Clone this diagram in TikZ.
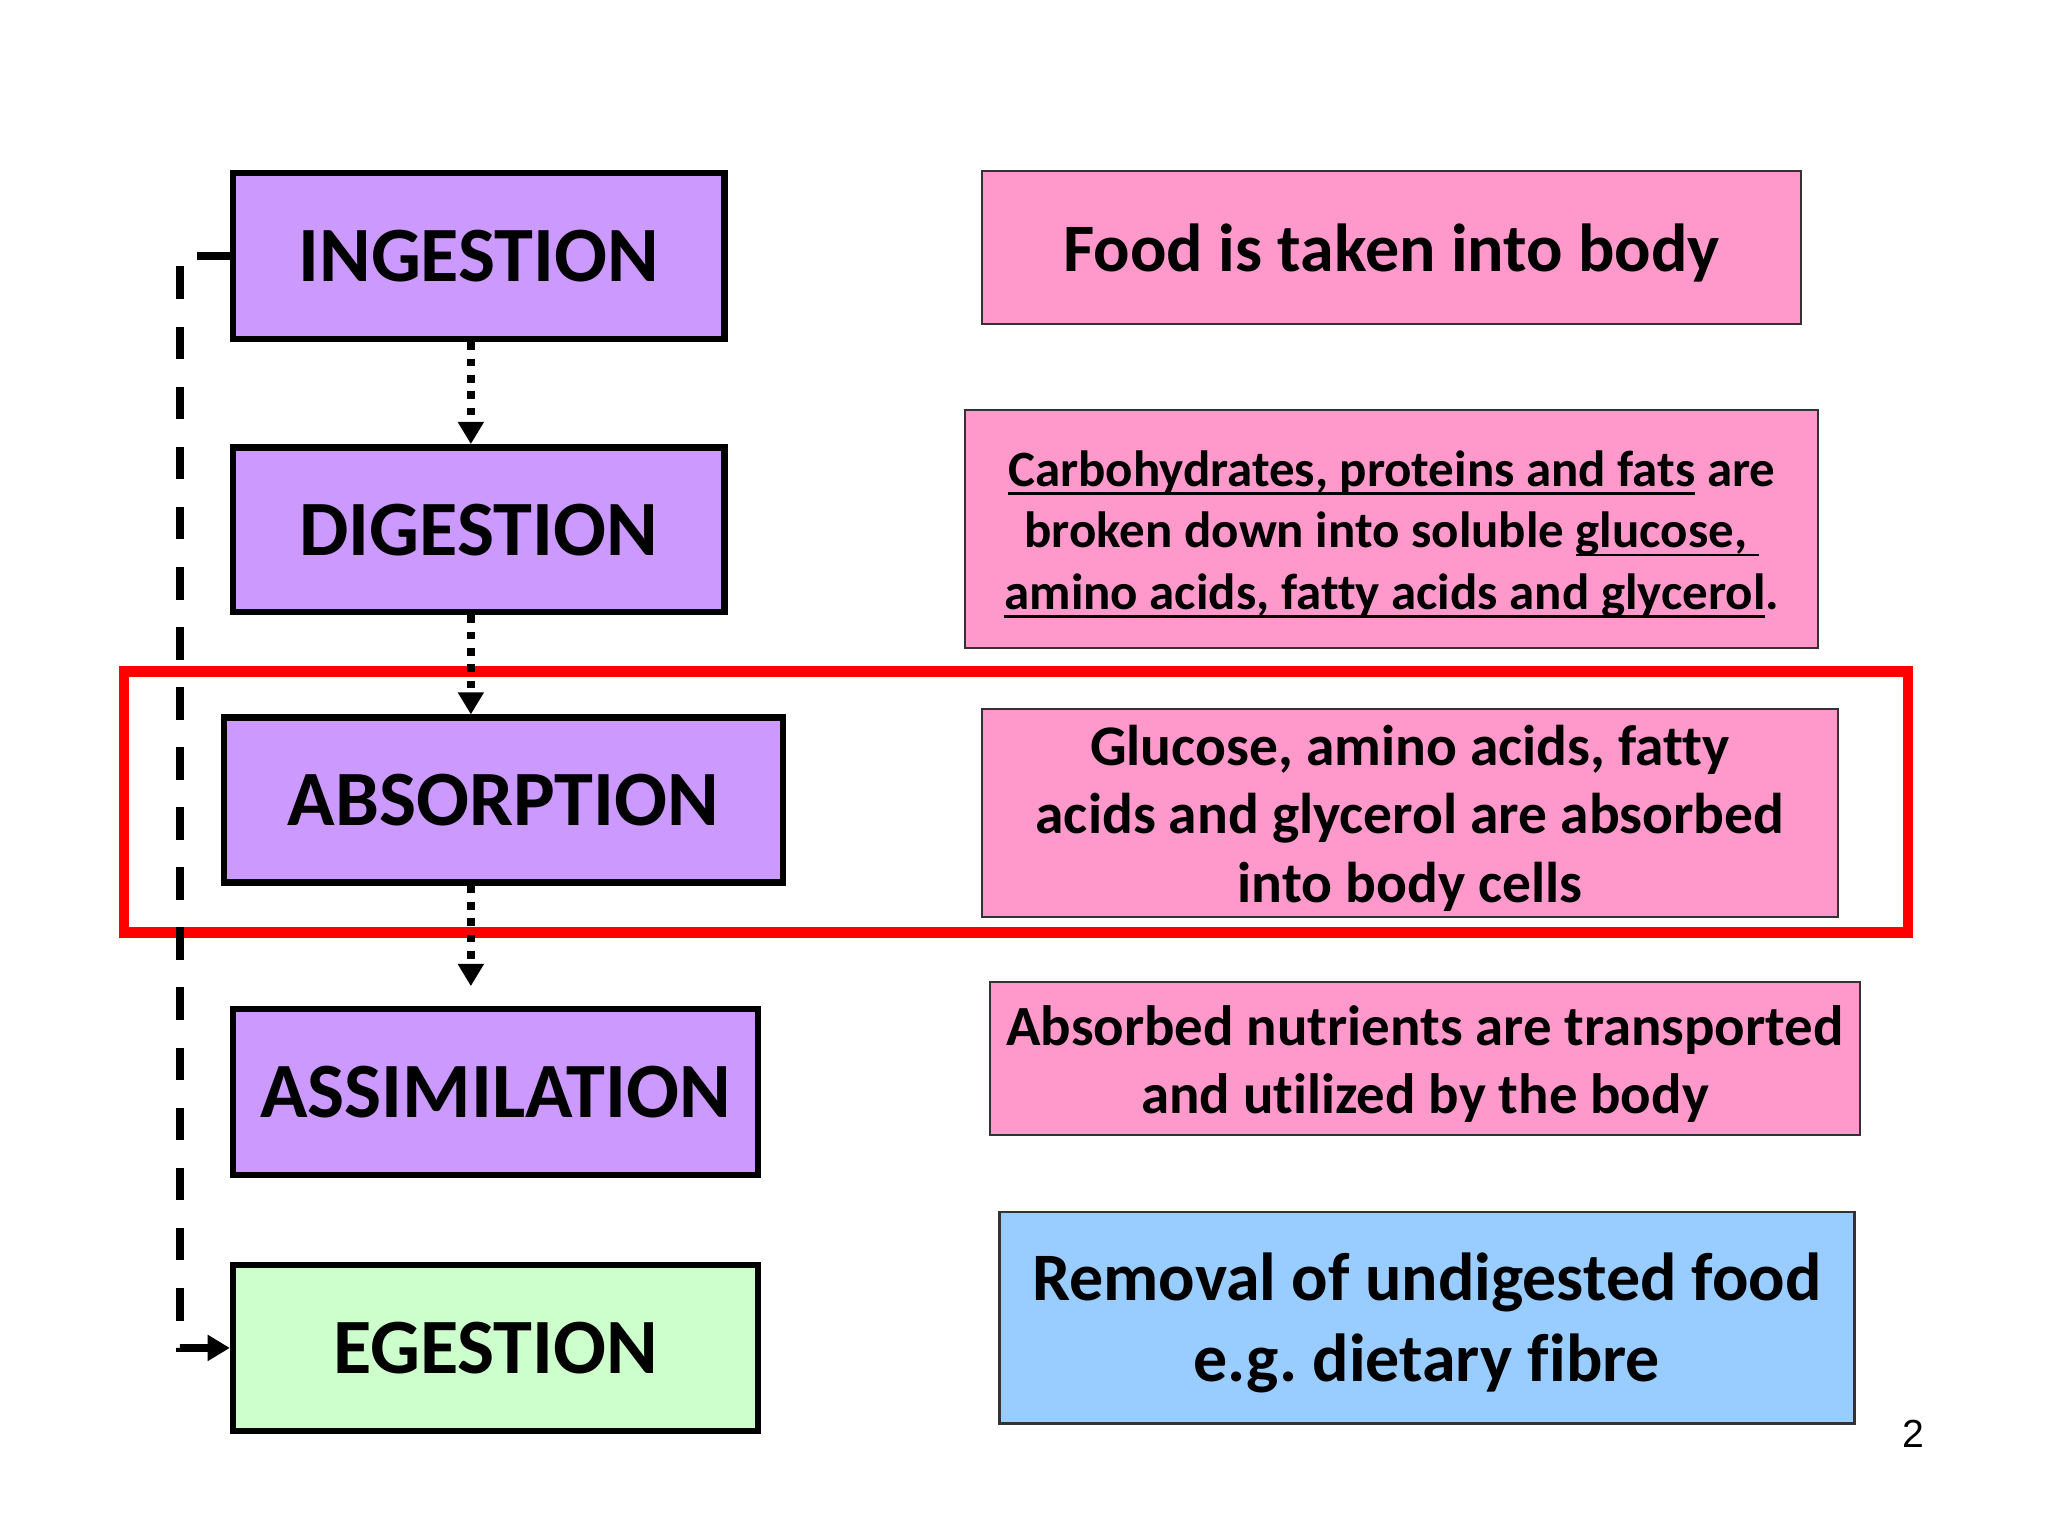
\documentclass[tikz,border=0pt]{standalone}
\usepackage{fontspec}
\setmainfont{Carlito}[Ligatures={NoCommon}]
\newfontfamily\numfont{Liberation Sans}
\usetikzlibrary{arrows.meta}
\definecolor{stagepurple}{HTML}{CC99FF}
\definecolor{stagegreen}{HTML}{CCFFCC}
\definecolor{descpink}{HTML}{FF99CC}
\definecolor{descblue}{HTML}{99CCFF}
\definecolor{descborder}{HTML}{333333}
\definecolor{focusred}{HTML}{FF0000}
\newcommand\ulx[1]{\setbox0\hbox{#1}\rlap{\rule[-0.17em]{\wd0}{0.05em}}\box0\relax}
\begin{document}
\begin{tikzpicture}[x=1pt,y=-1pt,
  stage/.style={draw=black, line width=5pt, inner sep=0pt, font=\bfseries\fontsize{60}{72}\selectfont},
  desc/.style={draw=descborder, line width=1.5pt, inner sep=0pt, fill=descpink},
  desctext/.style={align=center, inner sep=0pt, yshift=-4pt},
  flow/.style={line width=6pt, dash pattern=on 6pt off 6.5pt, -{Triangle[length=17pt,width=19pt]}},
  loopback/.style={line width=6pt, dash pattern=on 25pt off 21pt, -{Triangle[length=17pt,width=19pt]}}
]
\useasboundingbox (0,0) rectangle (1568,1176);
\fill[white] (0,0) rectangle (1568,1176);

% focus frame
\draw[focusred, line width=8pt] (95,514) rectangle (1461,714);

% stage boxes
\node[stage, fill=stagepurple, minimum width=376pt, minimum height=127pt] (ing) at (366.5,196) {INGESTION};
\node[stage, fill=stagepurple, minimum width=376pt, minimum height=126pt] (dig) at (366.5,405.5) {DIGESTION};
\node[stage, fill=stagepurple, minimum width=428pt, minimum height=126pt] (abs) at (385.5,612.5) {ABSORPTION};
\node[stage, fill=stagepurple, minimum width=402pt, minimum height=127pt] (asm) at (379.5,836) {ASSIMILATION};
\node[stage, fill=stagegreen, minimum width=402pt, minimum height=127pt] (eg) at (379.5,1032) {EGESTION};

% description boxes
\node[desc, minimum width=627pt, minimum height=117pt,
  label={[desctext, font=\bfseries\fontsize{52}{62}\selectfont]center:{Food is taken into body}}] (dfood) at (1065.5,189.5) {};
\node[desc, minimum width=653pt, minimum height=182pt,
  label={[desctext, font=\bfseries\fontsize{39}{47}\selectfont]center:{\ulx{Carbohydrates, proteins and fats} are\\broken down into soluble \ulx{glucose,\ }\\\ulx{amino acids, fatty acids and glycerol}.}}] (dcarb) at (1065.5,405) {};
\node[desc, minimum width=655pt, minimum height=159pt,
  label={[desctext, font=\bfseries\fontsize{44}{52.5}\selectfont]center:{Glucose, amino acids, fatty\\acids and glycerol are absorbed\\into body cells}}] (dglu) at (1079.5,622.5) {};
\node[desc, minimum width=666pt, minimum height=117pt,
  label={[desctext, font=\bfseries\fontsize{43.5}{52}\selectfont]center:{Absorbed nutrients are transported\\and utilized by the body}}] (dabs) at (1091,810.5) {};
\node[desc, fill=descblue, line width=2pt, minimum width=655pt, minimum height=162pt,
  label={[desctext, font=\bfseries\fontsize{52}{62}\selectfont]center:{Removal of undigested food\\e.g.\ dietary fibre}}] (drem) at (1092.5,1009) {};

% page number
\node[font=\numfont\fontsize{30}{36}\selectfont, inner sep=0pt] (pg) at (1465,1098) {2};

% connectors
\draw[flow] ([xshift=-6pt]ing.south) -- ([xshift=-6pt]dig.north);
\draw[flow] ([xshift=-6pt]dig.south) -- ([xshift=-6pt]dig.south |- abs.north);
\draw[flow, shorten >=15pt] ([xshift=-6pt]dig.south |- abs.south) -- ([xshift=-6pt]dig.south |- asm.north);
\draw[loopback] (ing.west) -- ++(-38,0) |- (eg.west);
\end{tikzpicture}
\end{document}
